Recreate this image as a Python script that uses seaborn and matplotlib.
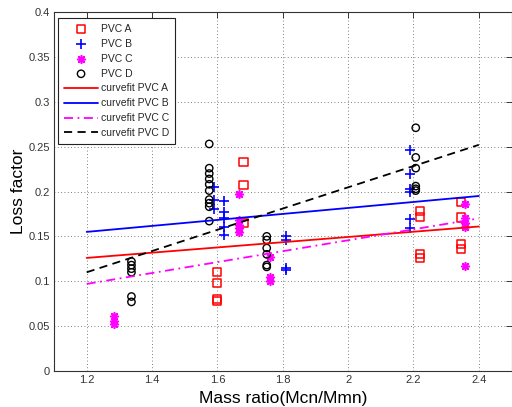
import numpy as np
import pandas as pd
import matplotlib
matplotlib.use("Agg")
import matplotlib.pyplot as plt
import seaborn as sns

# ---- measured data: mass ratio (x) vs loss factor (y) ----
pvc_a_x = [1.60, 1.60, 1.60, 1.60, 1.68, 1.68, 1.68,
           2.22, 2.22, 2.22, 2.22, 2.345, 2.345, 2.345, 2.345]
pvc_a_y = [0.110, 0.098, 0.080, 0.078, 0.233, 0.207, 0.165,
           0.178, 0.172, 0.130, 0.126, 0.188, 0.171, 0.142, 0.136]

pvc_b_x = [1.59, 1.59, 1.59, 1.62, 1.62, 1.62, 1.62, 1.62,
           1.81, 1.81, 1.81, 1.81,
           2.19, 2.19, 2.19, 2.19, 2.19, 2.19]
pvc_b_y = [0.205, 0.190, 0.180, 0.189, 0.177, 0.171, 0.160, 0.151,
           0.150, 0.146, 0.115, 0.113,
           0.246, 0.219, 0.203, 0.199, 0.169, 0.159]

pvc_c_x = [1.283, 1.283, 1.283, 1.666, 1.666, 1.666, 1.666, 1.666,
           1.76, 1.76, 1.76, 2.357, 2.357, 2.357, 2.357, 2.357]
pvc_c_y = [0.061, 0.056, 0.052, 0.197, 0.168, 0.163, 0.159, 0.155,
           0.127, 0.105, 0.100, 0.186, 0.170, 0.165, 0.160, 0.117]

pvc_d_x = [1.337, 1.337, 1.337, 1.337, 1.337, 1.337,
           1.575, 1.575, 1.575, 1.575, 1.575, 1.575, 1.575, 1.575, 1.575, 1.575,
           1.751, 1.751, 1.751, 1.751, 1.751, 1.751,
           2.207, 2.207, 2.207, 2.207, 2.207, 2.207]
pvc_d_y = [0.122, 0.118, 0.114, 0.110, 0.083, 0.077,
           0.253, 0.226, 0.220, 0.214, 0.208, 0.201, 0.191, 0.187, 0.183, 0.167,
           0.150, 0.146, 0.137, 0.130, 0.118, 0.116,
           0.271, 0.238, 0.226, 0.206, 0.203, 0.201]

# ---- linear curve fits, evaluated at the ends of the fitted range ----
fit_x = [1.2, 2.4]
fit_a = [0.126, 0.161]
fit_b = [0.155, 0.195]
fit_c = [0.097, 0.170]
fit_d = [0.110, 0.252]

x_ticks = [1.2, 1.4, 1.6, 1.8, 2.0, 2.2, 2.4]
x_tick_labels = ["1.2", "1.4", "1.6", "1.8", "2", "2.2", "2.4"]
y_ticks = [0, 0.05, 0.1, 0.15, 0.2, 0.25, 0.3, 0.35, 0.4]
y_tick_labels = ["0", "0.05", "0.1", "0.15", "0.2", "0.25", "0.3", "0.35", "0.4"]

sns.set_style("white")
plt.rcParams["font.family"] = ["Liberation Sans", "DejaVu Sans"]

W, H = 512, 407
fig = plt.figure(figsize=(W / 100, H / 100), dpi=100)
ax = fig.add_axes([54 / W, (H - 371) / H, 457.5 / W, 359 / H])

red, blue, magenta, black = "#ff0000", "#0000ff", "#ff00ff", "#000000"
asterisk = (8, 2, 0)

sns.scatterplot(x=pvc_a_x, y=pvc_a_y, ax=ax, marker="s", s=34,
                facecolor="none", edgecolor=red, linewidth=1.1, label="PVC A")
sns.scatterplot(x=pvc_b_x, y=pvc_b_y, ax=ax, marker="+", s=45,
                color=blue, linewidth=1.2, label="PVC B")
sns.scatterplot(x=pvc_c_x, y=pvc_c_y, ax=ax, marker=asterisk, s=30,
                color=magenta, linewidth=1.2, label="PVC C")
sns.scatterplot(x=pvc_d_x, y=pvc_d_y, ax=ax, marker="o", s=28,
                facecolor="none", edgecolor=black, linewidth=1.0, label="PVC D")

sns.lineplot(x=fit_x, y=fit_a, ax=ax, color=red, lw=1.3, label="curvefit PVC A")
sns.lineplot(x=fit_x, y=fit_b, ax=ax, color=blue, lw=1.3, label="curvefit PVC B")
sns.lineplot(x=fit_x, y=fit_c, ax=ax, color=magenta, lw=1.3,
             linestyle=(0, (5, 2.5, 1, 2.5)), label="curvefit PVC C")
sns.lineplot(x=fit_x, y=fit_d, ax=ax, color=black, lw=1.3,
             linestyle=(0, (4.5, 3)), label="curvefit PVC D")

ax.set_xlim(1.1, 2.5)
ax.set_ylim(0, 0.4)
ax.set_xticks(x_ticks)
ax.set_xticklabels(x_tick_labels)
ax.set_yticks(y_ticks)
ax.set_yticklabels(y_tick_labels)

ax.grid(True, linestyle=(0, (1, 3)), linewidth=0.6, color="#555555")
ax.set_axisbelow(True)
ax.tick_params(direction="in", length=4, width=0.7, colors="#333333",
               labelsize=8, top=True, right=True, pad=3)
for sp in ax.spines.values():
    sp.set_color("#333333")
    sp.set_linewidth(0.8)

ax.set_xlabel("Mass ratio(Mcn/Mmn)", fontsize=12.5, color="black", labelpad=4)
ax.set_ylabel("Loss factor", fontsize=12.5, color="black", labelpad=2)

leg = ax.legend(loc="upper left", bbox_to_anchor=(0.009, 0.983),
                borderaxespad=0, fontsize=7.5, frameon=True, fancybox=False,
                edgecolor="#222222", framealpha=1, handlelength=3.3,
                handletextpad=0.3, labelspacing=0.47, borderpad=0.55,
                scatterpoints=1)
leg.get_frame().set_linewidth(0.8)

fig.savefig("out.png", dpi=100)
